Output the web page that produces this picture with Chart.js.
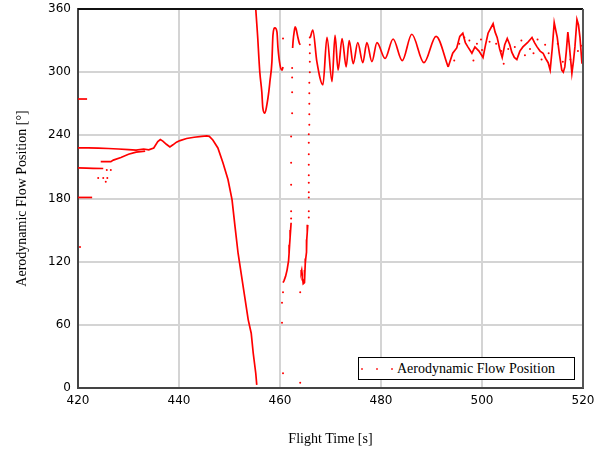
<!DOCTYPE html>
<html lang="en">
<head>
<meta charset="UTF-8">
<title>Aerodynamic Flow Position</title>
<style>
    body { margin: 0; background: #fff; }
    #wrap { position: relative; width: 605px; height: 455px; }
    #legend {
        position: absolute; left: 358px; top: 357px; width: 215px; height: 21px;
        border: 1px solid #000; background: #fff;
        font-family: "Liberation Serif", "Times New Roman", serif; font-size: 14px;
        line-height: 21px; white-space: nowrap;
    }
    #legend .dots { display: inline-block; width: 38px; height: 21px; vertical-align: top; position: relative; }
    #legend .dots i { position: absolute; top: 10px; width: 2px; height: 2px; background: #ff6060; }
</style>
</head>
<body>
<div id="wrap">
    <canvas id="chart" width="605" height="455"></canvas>
    <div id="legend"><span class="dots"><i style="left:2px"></i><i style="left:17px"></i><i style="left:32px"></i></span>Aerodynamic Flow Position</div>
</div>
<script src="https://cdn.jsdelivr.net/npm/chart.js"></script>
<script>
// axis ticks
const xTicks = [420, 440, 460, 480, 500, 520];
const yTicks = [0, 60, 120, 180, 240, 300, 360];

// series values, [time s, position deg]
const topLine = [[420, 228], [422, 228], [424, 227.8], [426, 227.5], [428, 227], [430, 226.5], [431.5, 226],
    [433, 227], [434, 226.2], [435, 228], [435.8, 234], [436.3, 236], [436.8, 234.5], [437.5, 231.5], [438.2, 229],
    [438.8, 231], [439.5, 233.5], [440.2, 235], [441.5, 237], [443, 238.2], [444.5, 239], [445.5, 239.4],
    [446, 239], [446.7, 235.6], [447.7, 228], [448.7, 214], [449.7, 198], [450.5, 179], [451.1, 153],
    [451.7, 128], [452.3, 109], [453.1, 84], [453.7, 65], [454.3, 52], [454.7, 33], [455.2, 14], [455.4, 3]];
const lowLine = [[424.5, 215], [426.5, 215], [427, 216.5], [428.5, 219], [430, 222], [431.5, 224], [433.3, 225]];
const shortLine1 = [[420, 209], [421.7, 208.8], [423, 208.6], [425, 208.5]];
const shortLine2 = [[420, 181], [421, 181], [422, 181], [422.8, 181]];
const shortLine3 = [[420, 274.5], [421, 274.5], [421.8, 274.5]];
const firstSwing = [[455.2, 360], [455.4, 346], [455.6, 332], [455.8, 315], [456, 300], [456.4, 281], [456.6, 266],
    [457, 261], [457.4, 269], [457.8, 282], [458, 291], [458.4, 310], [458.6, 335], [459, 342], [459.4, 338],
    [459.6, 323], [460, 307], [460.4, 302], [460.6, 305]];
const riseLine = [[462.2, 157], [462.1, 150], [462, 143], [461.9, 136], [461.8, 128], [461.7, 121], [461.4, 112],
    [461.1, 106], [460.8, 102], [460.6, 100]];
const secondPeak = [[462.5, 323], [462.6, 330], [462.8, 338], [463, 343], [463.2, 341], [463.5, 334], [463.8, 328], [464, 326]];
const uLine = [[465.5, 155], [465.4, 148], [465.3, 141], [465.3, 134], [465.2, 129], [465.1, 123], [465, 118],
    [464.95, 112], [464.9, 106], [464.8, 100], [464.6, 99], [464.5, 103], [464.4, 108], [464.3, 112], [464.2, 110]];
const waves = [[466, 333], [466.5, 340], [467.3, 310], [468.5, 288], [469.3, 333], [470.3, 291], [470.9, 335],
    [471.5, 302], [472.3, 332], [473.1, 305], [473.7, 330], [474.5, 308], [475.4, 328], [476.4, 309], [477.2, 328],
    [478.2, 310], [479.2, 328], [480.8, 313], [482.4, 331.5], [484.2, 311], [486.1, 336], [488.5, 309],
    [490.9, 334], [493.3, 305]];
const noisy = [[493.3, 305], [494.2, 318], [495, 323], [495.6, 334], [496.2, 337], [496.7, 328], [497.2, 324],
    [498, 318], [498.6, 324], [499.4, 320], [500.2, 314], [500.7, 326], [501.2, 337], [502.2, 346], [502.6, 338],
    [503, 333], [503.5, 322], [504, 314], [504.5, 326], [505, 332], [505.5, 326], [505.9, 319], [506.4, 314],
    [506.9, 312], [507.5, 320], [508.1, 324], [509, 328], [509.9, 333], [510.4, 328], [510.9, 324], [511.5, 320],
    [512.1, 318], [512.6, 313], [513.1, 309], [513.5, 302], [513.9, 322], [514.3, 347], [514.6, 340], [514.9, 333],
    [515.3, 318], [515.8, 302], [516.1, 300], [516.4, 305], [516.7, 320], [517, 338], [517.3, 325], [517.8, 299],
    [518.1, 310], [518.4, 324], [518.8, 350], [519.1, 345], [519.4, 333], [519.8, 308]];
const looseDots = [[420.4, 360], [420.4, 134], [425.7, 207], [426.5, 207], [424, 199.5], [425, 199.5],
    [425.8, 199.5], [425.5, 196], [460.6, 332],
    [462.4, 304], [462.4, 295], [462.4, 281], [462.4, 261], [462.2, 239], [462.2, 214], [462.2, 193],
    [462.2, 168], [462.2, 161], [460.6, 91], [460.4, 81], [460.4, 62], [460.6, 14],
    [465.9, 333], [465.9, 326], [465.9, 318], [465.9, 310], [465.9, 300], [465.8, 290], [465.8, 280],
    [465.8, 270], [465.8, 260], [465.8, 250], [465.7, 241], [465.7, 233], [465.7, 222], [465.7, 212],
    [465.7, 202], [465.7, 195], [465.7, 186], [465.7, 181], [465.7, 168], [465.7, 162], [464, 91], [464, 5],
    [494.5, 311], [495.5, 327], [496.5, 333], [497.5, 330], [498.3, 311], [499, 327], [499.8, 331], [500, 321],
    [501.5, 329], [502.8, 327], [503.8, 320], [504.3, 308], [505.2, 322], [506.5, 324], [507.8, 330],
    [508.5, 316], [509.5, 322], [510.2, 318], [511, 331], [511.8, 312], [512.5, 326], [513.2, 318],
    [515, 327], [516, 310], [517.5, 312], [519, 320], [519.8, 325]];

const red = "#ff0000";
function toXY(arr) { return arr.map(p => ({ x: p[0], y: p[1] })); }
function lineSet(arr, smooth) {
    return {
        data: toXY(arr), showLine: true, borderColor: red, backgroundColor: red, borderWidth: 1.7,
        pointRadius: 0, cubicInterpolationMode: smooth ? "monotone" : "default", tension: 0
    };
}

const datasets = [
    lineSet(topLine), lineSet(lowLine), lineSet(shortLine1), lineSet(shortLine2), lineSet(shortLine3),
    lineSet(firstSwing, true), lineSet(riseLine), lineSet(secondPeak, true), lineSet(uLine),
    lineSet(waves, true), lineSet(noisy),
    { data: toXY(looseDots), showLine: false, pointRadius: 1, pointBorderWidth: 0, backgroundColor: red }
];

// frame: dark top and right edges of the plot
const framePlugin = {
    id: "frame",
    afterDraw(chart) {
        const a = chart.chartArea, c = chart.ctx;
        c.save();
        c.lineWidth = 2;
        c.strokeStyle = "#111";
        c.beginPath(); c.moveTo(a.left, a.top); c.lineTo(a.right, a.top); c.stroke();
        c.strokeStyle = "#555";
        c.beginPath(); c.moveTo(a.right, a.top); c.lineTo(a.right, a.bottom); c.stroke();
        c.restore();
    }
};

const tickFont = { family: "DejaVu Sans", size: 12 };
const titleFont = { family: "Liberation Serif", size: 14 };

new Chart(document.getElementById("chart"), {
    type: "scatter",
    data: { datasets },
    options: {
        responsive: false,
        animation: false,
        layout: { padding: { left: 0, right: 22, top: 9, bottom: 0 } },
        plugins: { legend: { display: false }, tooltip: { enabled: false } },
        scales: {
            x: {
                type: "linear", min: 420, max: 520,
                afterBuildTicks: s => { s.ticks = xTicks.map(v => ({ value: v })); },
                afterFit: s => { s.height = 67; s.paddingLeft = 0; s.paddingRight = 0; },
                ticks: { color: "#000", font: tickFont, padding: 6, maxRotation: 0 },
                grid: { color: "#d4d4d4", lineWidth: 2, drawTicks: false },
                border: { color: "#444", width: 2 },
                title: { display: true, text: "Flight Time [s]", color: "#000", font: titleFont, padding: { top: 0, bottom: 7 } }
            },
            y: {
                type: "linear", min: 0, max: 360,
                afterBuildTicks: s => { s.ticks = yTicks.map(v => ({ value: v })); },
                afterFit: s => { s.width = 78; s.paddingTop = 0; s.paddingBottom = 0; },
                ticks: { color: "#000", font: tickFont, padding: 7 },
                grid: { color: "#d4d4d4", lineWidth: 2, drawTicks: false },
                border: { color: "#444", width: 2 },
                title: { display: true, text: "Aerodynamic Flow Position [°]", color: "#000", font: titleFont, padding: { top: 14, bottom: 0 } }
            }
        }
    },
    plugins: [framePlugin]
});
</script>
</body>
</html>
